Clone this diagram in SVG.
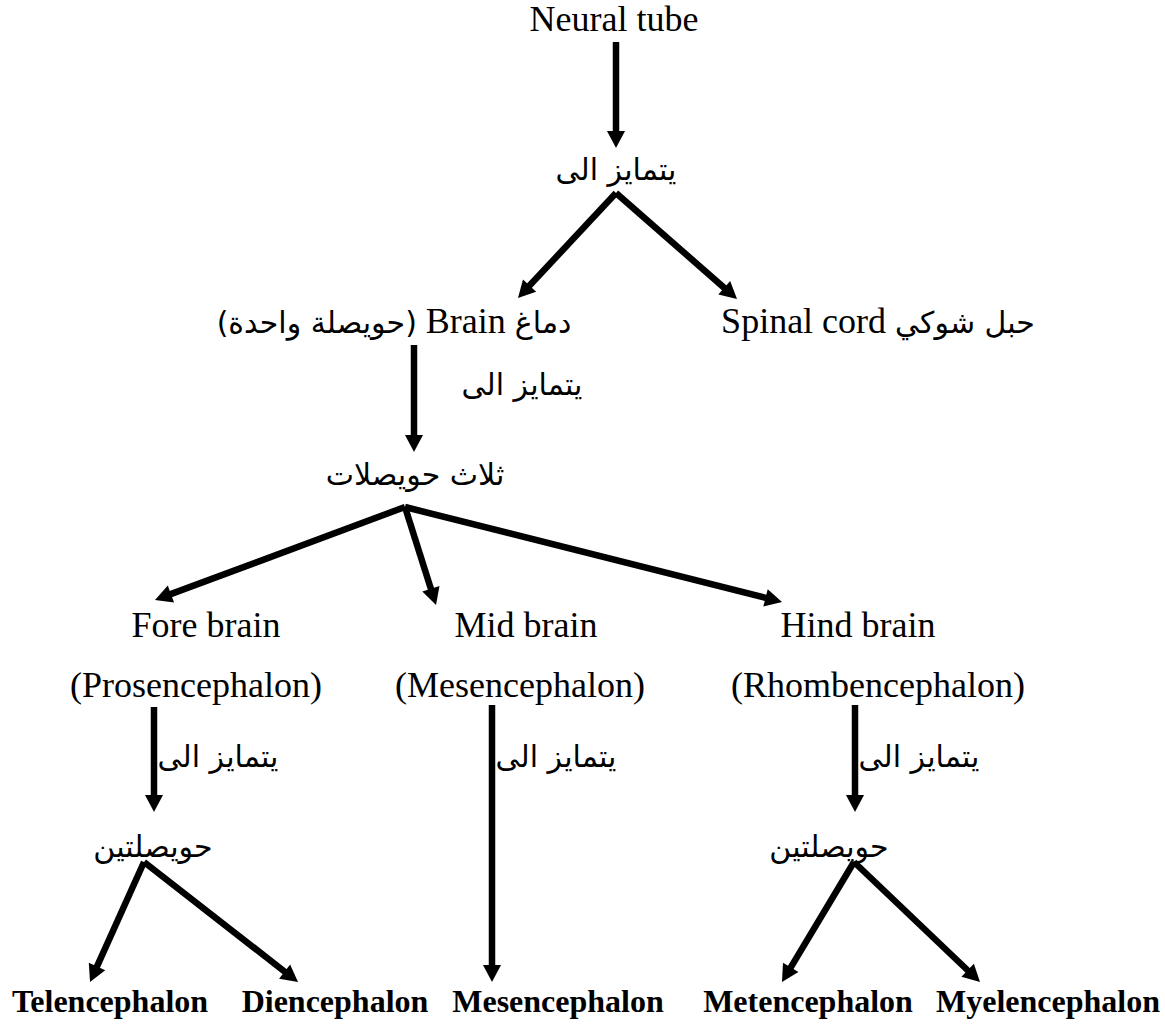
<svg xmlns="http://www.w3.org/2000/svg" width="1165" height="1025" viewBox="0 0 1165 1025">
  <style>
    .en { font-family: "Liberation Serif", "DejaVu Sans", serif; font-size: 36px; fill: #000; }
    .ar { font-family: "DejaVu Sans", "Liberation Sans", sans-serif; font-size: 30px; fill: #000; }
    .ar-in { font-family: "DejaVu Sans", "Liberation Sans", sans-serif; font-size: 30px; }
    .bold { font-family: "Liberation Serif", serif; font-size: 32px; font-weight: bold; fill: #000; }
    .arrow { stroke: #000; stroke-width: 6.5; fill: none; marker-end: url(#head); }
  </style>
  <defs>
    <marker id="head" markerUnits="userSpaceOnUse" markerWidth="20" markerHeight="20" refX="1" refY="9" orient="auto" overflow="visible">
      <path d="M0,0 L17,9 L0,18 z" fill="#000"/>
    </marker>
  </defs>
  <rect width="1165" height="1025" fill="#fff"/>

  <!-- connectors -->
  <g id="connectors">
    <line class="arrow" x1="616" y1="42" x2="616" y2="132"/>
    <line class="arrow" x1="616" y1="193" x2="528.9" y2="286.3"/>
    <line class="arrow" x1="616" y1="193" x2="725" y2="288.5"/>
    <line class="arrow" x1="414" y1="345" x2="414" y2="436"/>
    <line class="arrow" x1="405" y1="507" x2="170" y2="594.4"/>
    <line class="arrow" x1="405" y1="507" x2="431.2" y2="589.7"/>
    <line class="arrow" x1="405" y1="507" x2="766.5" y2="598.1"/>
    <line class="arrow" x1="154" y1="707" x2="154" y2="796"/>
    <line class="arrow" x1="492" y1="705" x2="492" y2="966"/>
    <line class="arrow" x1="855" y1="705" x2="855" y2="796"/>
    <line class="arrow" x1="144" y1="862" x2="96.6" y2="967.4"/>
    <line class="arrow" x1="144" y1="862" x2="285.4" y2="972.2"/>
    <line class="arrow" x1="854" y1="862" x2="790.2" y2="968.3"/>
    <line class="arrow" x1="854" y1="862" x2="968.4" y2="971"/>
  </g>

  <g id="neural-tube"><text class="en" x="614" y="31" text-anchor="middle">Neural tube</text></g>
  <g id="label-1"><text class="ar" x="616" y="180" text-anchor="middle" direction="rtl">يتمايز الى</text></g>
  <g id="brain"><text class="en" x="394" y="333" text-anchor="middle" direction="rtl"><tspan class="ar-in">دماغ</tspan> Brain <tspan class="ar-in">(حويصلة واحدة)</tspan></text></g>
  <g id="spinal-cord"><text class="en" x="878" y="333" text-anchor="middle" direction="rtl"><tspan class="ar-in">حبل شوكي</tspan> Spinal cord</text></g>
  <g id="label-2"><text class="ar" x="522" y="395" text-anchor="middle" direction="rtl">يتمايز الى</text></g>
  <g id="three-vesicles"><text class="ar" x="415" y="485" text-anchor="middle" direction="rtl">ثلاث حويصلات</text></g>

  <g id="fore-brain">
    <text class="en" x="206" y="637" text-anchor="middle">Fore brain</text>
    <text class="en" x="196" y="697" text-anchor="middle">(Prosencephalon)</text>
  </g>
  <g id="mid-brain">
    <text class="en" x="526" y="637" text-anchor="middle">Mid brain</text>
    <text class="en" x="520" y="697" text-anchor="middle">(Mesencephalon)</text>
  </g>
  <g id="hind-brain">
    <text class="en" x="858" y="637" text-anchor="middle">Hind brain</text>
    <text class="en" x="878" y="697" text-anchor="middle">(Rhombencephalon)</text>
  </g>

  <g id="label-fore"><text class="ar" x="218" y="767" text-anchor="middle" direction="rtl">يتمايز الى</text></g>
  <g id="label-mid"><text class="ar" x="556" y="767" text-anchor="middle" direction="rtl">يتمايز الى</text></g>
  <g id="label-hind"><text class="ar" x="919" y="767" text-anchor="middle" direction="rtl">يتمايز الى</text></g>

  <g id="fore-vesicles"><text class="ar" x="153" y="857" text-anchor="middle" direction="rtl">حويصلتين</text></g>
  <g id="hind-vesicles"><text class="ar" x="829" y="857" text-anchor="middle" direction="rtl">حويصلتين</text></g>

  <g id="telencephalon"><text class="bold" x="110" y="1012" text-anchor="middle">Telencephalon</text></g>
  <g id="diencephalon"><text class="bold" x="335" y="1012" text-anchor="middle">Diencephalon</text></g>
  <g id="mesencephalon"><text class="bold" x="558" y="1012" text-anchor="middle">Mesencephalon</text></g>
  <g id="metencephalon"><text class="bold" x="808" y="1012" text-anchor="middle">Metencephalon</text></g>
  <g id="myelencephalon"><text class="bold" x="1048" y="1012" text-anchor="middle">Myelencephalon</text></g>
</svg>
